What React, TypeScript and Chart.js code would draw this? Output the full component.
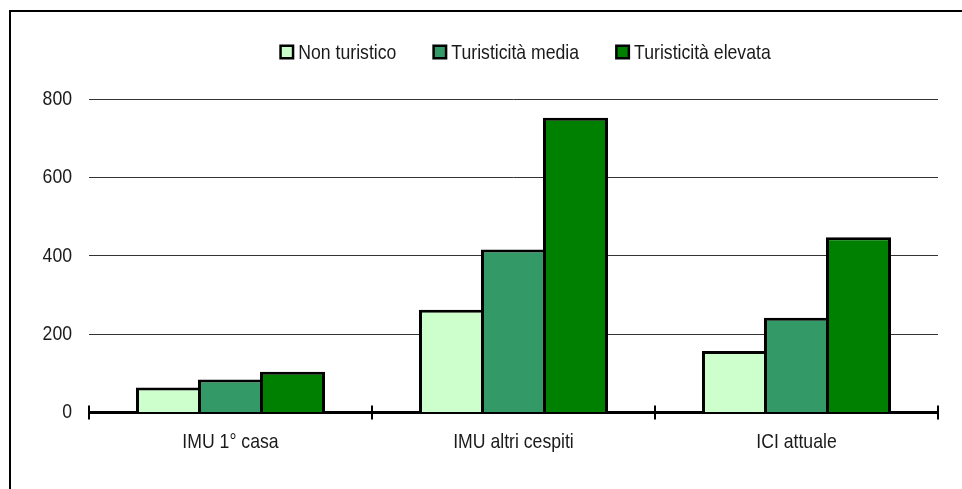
import React, { useEffect, useRef } from 'react';
import { Chart, registerables } from 'chart.js';

Chart.register(...registerables);

const categories = ['IMU 1° casa', 'IMU altri cespiti', 'ICI attuale'];
const seriesNames = ['Non turistico', 'Turisticità media', 'Turisticità elevata'];
const nonTuristico = [64, 262, 157];
const turisticitaMedia = [84, 416, 242];
const turisticitaElevata = [104, 752, 447];
const yMin = 0;
const yMax = 800;
const yStep = 200;
const seriesColors = ['#CCFFCC', '#339966', '#008000'];

const FONT_FAMILY = "'Liberation Sans', Arial, sans-serif";
const FONT_SIZE = 21;
const CONDENSE = 0.84;
const TEXT_COLOR = '#1a1a1a';

function drawCondensed(ctx: CanvasRenderingContext2D, text: string, x: number, y: number, align: CanvasTextAlign) {
  ctx.save();
  ctx.font = `${FONT_SIZE}px ${FONT_FAMILY}`;
  ctx.fillStyle = TEXT_COLOR;
  ctx.textBaseline = 'middle';
  ctx.textAlign = align;
  ctx.translate(x, y);
  ctx.scale(CONDENSE, 1);
  ctx.fillText(text, 0, 0);
  ctx.restore();
}

function condensedWidth(ctx: CanvasRenderingContext2D, text: string) {
  ctx.save();
  ctx.font = `${FONT_SIZE}px ${FONT_FAMILY}`;
  const w = ctx.measureText(text).width * CONDENSE;
  ctx.restore();
  return w;
}

export default function App() {
  const ref = useRef<HTMLCanvasElement | null>(null);

  useEffect(() => {
    if (!ref.current) return;

    const framePlugin = {
      id: 'frame',
      afterDraw(chart: any) {
        const ctx = chart.ctx;
        ctx.save();
        ctx.strokeStyle = '#000';
        ctx.lineWidth = 2;
        ctx.beginPath();
        ctx.moveTo(10, chart.height);
        ctx.lineTo(10, 11);
        ctx.lineTo(chart.width, 11);
        ctx.stroke();
        ctx.restore();
      },
    };

    const axisTextPlugin = {
      id: 'axisText',
      afterDraw(chart: any) {
        const ctx = chart.ctx;
        const xs = chart.scales.x;
        const ys = chart.scales.y;
        // x tick marks at category boundaries
        const labels = xs.getLabels();
        const n = labels.length;
        const step = (xs.right - xs.left) / n;
        ctx.save();
        ctx.strokeStyle = '#000';
        ctx.lineWidth = 2;
        for (let i = 0; i <= n; i++) {
          const x = Math.round(xs.left + i * step);
          ctx.beginPath();
          ctx.moveTo(x, xs.top - 7);
          ctx.lineTo(x, xs.top + 7);
          ctx.stroke();
        }
        ctx.restore();
        // x labels
        labels.forEach((lab: string, i: number) => {
          drawCondensed(ctx, lab, xs.getPixelForValue(i), xs.top + 30, 'center');
        });
        // y labels
        ys.ticks.forEach((t: any) => {
          drawCondensed(ctx, String(t.value), ys.right - 17, ys.getPixelForValue(t.value), 'right');
        });
      },
    };

    const legendPlugin = {
      id: 'customLegend',
      afterDraw(chart: any) {
        const ctx = chart.ctx;
        const box = 15;
        const gapText = 4;
        const gapItem = 36;
        const items = chart.data.datasets.map((d: any) => ({
          label: d.label,
          color: d.backgroundColor,
          w: condensedWidth(ctx, d.label),
        }));
        let total = 0;
        items.forEach((it: any, i: number) => {
          total += box + gapText + it.w + (i < items.length - 1 ? gapItem : 0);
        });
        let x = 525 - total / 2;
        const cy = 52;
        items.forEach((it: any) => {
          ctx.save();
          ctx.fillStyle = it.color;
          ctx.fillRect(x + 1.25, cy - box / 2 + 1.25, box - 2.5, box - 2.5);
          ctx.strokeStyle = '#000';
          ctx.lineWidth = 2.5;
          ctx.strokeRect(x + 1.25, cy - box / 2 + 1.25, box - 2.5, box - 2.5);
          ctx.restore();
          drawCondensed(ctx, it.label, x + box + gapText, cy + 1, 'left');
          x += box + gapText + it.w + gapItem;
        });
      },
    };

    const catPct = 186 / 283;
    const barPct = 65 / 62;
    const values = [nonTuristico, turisticitaMedia, turisticitaElevata];

    const chart = new Chart(ref.current, {
      type: 'bar',
      data: {
        labels: categories,
        datasets: seriesNames.map((name, i) => ({
          label: name,
          data: values[i],
          backgroundColor: seriesColors[i],
          borderColor: '#000',
          borderWidth: 3,
          categoryPercentage: catPct,
          barPercentage: barPct,
        })),
      },
      options: {
        responsive: false,
        animation: false,
        layout: { padding: { top: 99, right: 24, left: 0, bottom: 0 } },
        plugins: { legend: { display: false }, tooltip: { enabled: false } },
        scales: {
          x: {
            z: 1,
            grid: { display: false },
            border: { display: true, color: '#000', width: 3 },
            ticks: { display: false },
            afterFit: (s: any) => {
              s.height = 489 - 412.5;
            },
          },
          y: {
            min: yMin,
            max: yMax,
            ticks: { stepSize: yStep, display: false },
            grid: { color: '#333', lineWidth: 1, drawTicks: false },
            border: { display: false },
            afterFit: (s: any) => {
              s.width = 89;
            },
          },
        },
      },
      plugins: [framePlugin, axisTextPlugin, legendPlugin],
    });
    return () => chart.destroy();
  }, []);

  return (
    <div style={{ position: 'absolute', left: 0, top: 0, width: 962, height: 489, overflow: 'hidden', background: '#fff' }}>
      <canvas ref={ref} width={962} height={489} style={{ display: 'block' }} />
    </div>
  );
}
